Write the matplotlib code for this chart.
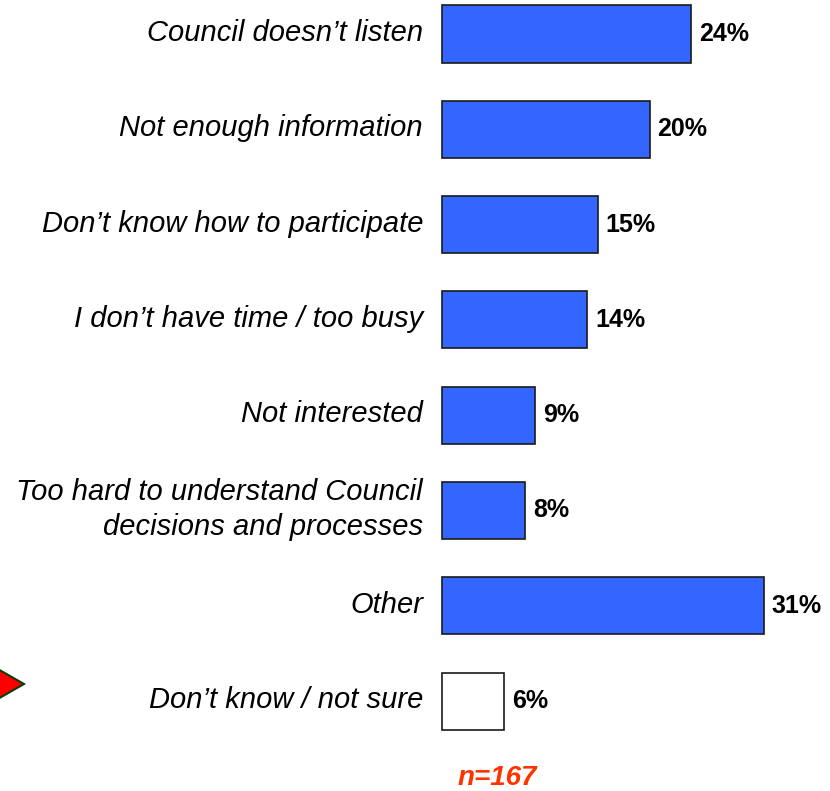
import matplotlib
matplotlib.use("Agg")
import matplotlib.pyplot as plt
from matplotlib.patches import Polygon

reasons = [
    "Council doesn\u2019t listen",
    "Not enough information",
    "Don\u2019t know how to participate",
    "I don\u2019t have time / too busy",
    "Not interested",
    "Too hard to understand Council\ndecisions and processes",
    "Other",
    "Don\u2019t know / not sure",
]
percent = [24, 20, 15, 14, 9, 8, 31, 6]
fill = ["#3366FF"] * 7 + ["white"]
sample_note = "n=167"

plt.rcParams["font.family"] = ["Liberation Sans", "DejaVu Sans"]

W, H = 830, 791
fig = plt.figure(figsize=(W / 100, H / 100), dpi=100)
fig.patch.set_facecolor("white")

# bar area starts at the zero line and runs to the right edge
x0_px, px_per_pct = 442, 10.375
ax = fig.add_axes([x0_px / W, 0, (W - x0_px) / W, 1])
ax.set_xlim(0, (W - x0_px) / px_per_pct)
first_px, step_px = 34, 95.3
ax.set_ylim((H - first_px) / step_px, -first_px / step_px)
ax.axis("off")

ypos = list(range(len(reasons)))
bars = ax.barh(ypos, percent, height=0.6, color=fill, edgecolor="#1a1a1a",
               linewidth=1.2, left=0)
for b in bars:
    b.set_clip_on(False)

for y, name, val in zip(ypos, reasons, percent):
    ax.annotate(name, xy=(0, y), xytext=(-19, 1), textcoords="offset pixels",
                ha="right", va="center", fontsize=21, style="italic",
                multialignment="right", linespacing=1.3, annotation_clip=False)
    ax.annotate(f"{val}%", xy=(val, y), xytext=(8, 0), textcoords="offset pixels",
                ha="left", va="center", fontsize=18, fontweight="bold",
                annotation_clip=False)

fig.text(497 / W, 1 - 778 / H, sample_note, ha="center", va="center",
         fontsize=20, fontweight="bold", style="italic", color="#FF3300")

# pointer arrow at the left margin next to the last row
arrow = Polygon([[-4 / W, 1 - 668 / H], [24 / W, 1 - 684 / H], [-4 / W, 1 - 700 / H]],
                closed=True, facecolor="#FF0000", edgecolor="#0B3D0B", linewidth=1.5,
                transform=fig.transFigure, clip_on=False)
fig.patches.append(arrow)

fig.savefig("out.png", dpi=100, facecolor="white")
